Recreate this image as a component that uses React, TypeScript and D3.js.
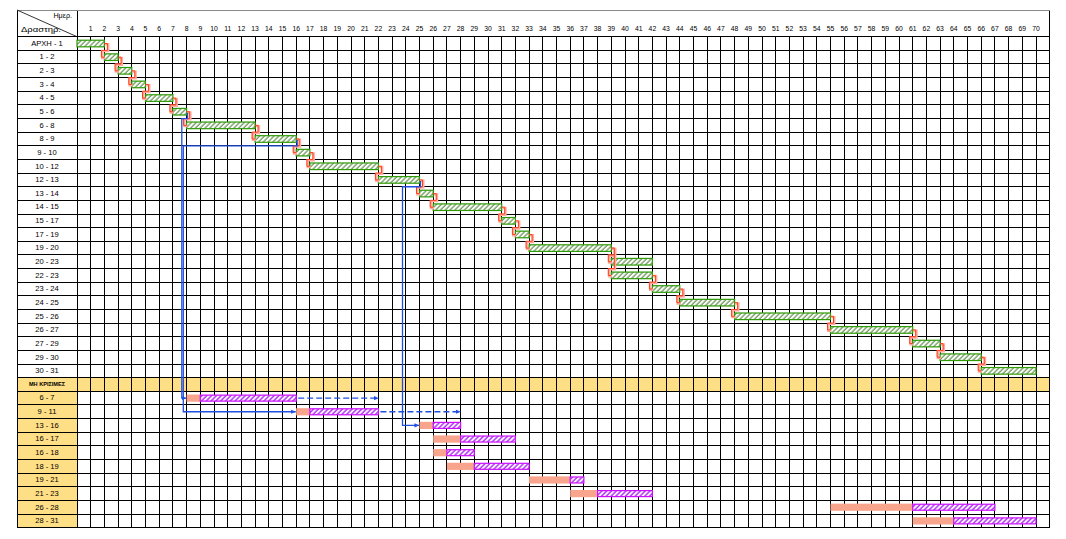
import React from "react";
import * as d3 from "d3";

// Time axis: day boundaries 1..70 (the grid has one extra blank day at the end)
const dayTicks = d3.range(1, 71);
const totalDays = 71;

// Critical activities (start day, duration)
const criticalActs = [
  "ΑΡΧΗ - 1", "1 - 2", "2 - 3", "3 - 4", "4 - 5", "5 - 6", "6 - 8", "8 - 9", "9 - 10",
  "10 - 12", "12 - 13", "13 - 14", "14 - 15", "15 - 17", "17 - 19", "19 - 20", "20 - 23",
  "22 - 23", "23 - 24", "24 - 25", "25 - 26", "26 - 27", "27 - 29", "29 - 30", "30 - 31",
];
const criticalStart = [0, 2, 3, 4, 5, 7, 8, 13, 16, 17, 22, 25, 26, 31, 32, 33, 39, 39, 42, 44, 48, 55, 61, 63, 66];
const criticalDuration = [2, 1, 1, 1, 2, 1, 5, 3, 1, 5, 3, 1, 5, 1, 1, 6, 3, 3, 2, 4, 7, 6, 2, 3, 4];

// Successor links along the critical path (row index pairs)
const criticalLinks: [number, number][] = [
  [0, 1], [1, 2], [2, 3], [3, 4], [4, 5], [5, 6], [6, 7], [7, 8], [8, 9], [9, 10],
  [10, 11], [11, 12], [12, 13], [13, 14], [14, 15], [15, 16], [15, 17], [17, 18],
  [18, 19], [19, 20], [20, 21], [21, 22], [22, 23], [23, 24],
];

const groupLabel = "ΜΗ ΚΡΙΣΙΜΕΣ";

// Non-critical activities (start day, duration, total float)
const nonCriticalActs = ["6 - 7", "9 - 11", "13 - 16", "16 - 17", "16 - 18", "18 - 19", "19 - 21", "21 - 23", "26 - 28", "28 - 31"];
const nonCriticalStart = [8, 16, 25, 26, 26, 27, 33, 36, 55, 61];
const nonCriticalDuration = [1, 1, 1, 2, 1, 2, 3, 2, 6, 3];
const nonCriticalFloat = [7, 5, 2, 4, 2, 4, 1, 4, 6, 6];

// Dependencies from a critical activity into a non-critical one,
// with the day at which the vertical run of each link is routed
const floatLinkSource = [5, 7, 10];
const floatLinkTarget = [0, 1, 2];
const floatLinkLaneDay = [8, 8, 25];

// Dashed extensions of float on non-critical rows (from day, to day)
const dashedRow = [0, 1];
const dashedFrom = [16, 22];
const dashedTo = [22, 28];

const W = 1066;
const H = 539;
const left = 17;
const labelRight = 77;
const colW = 13.7;
const headerTop = 10;
const bodyTop = 36.7;
const bodyBottom = 527.7;

const FONT = "'Liberation Sans', Arial, sans-serif";
const YELLOW = "#ffdf86";
const BLUE = "#1f4fe0";

export default function App() {
  const rowLabels = [...criticalActs, groupLabel, ...nonCriticalActs];
  const nCrit = criticalActs.length;
  const ncBase = nCrit + 1;

  const x = d3.scaleLinear().domain([0, totalDays]).range([labelRight, labelRight + totalDays * colW]);
  const y = d3
    .scaleBand<number>()
    .domain(d3.range(rowLabels.length))
    .range([bodyTop, bodyBottom])
    .padding(0);
  const rh = y.bandwidth();
  const mid = (i: number) => (y(i) as number) + rh / 2;
  const right = x(totalDays);

  const barH = 6.6;

  // Elbow connector between consecutive critical bars
  const elbow = (a: number, b: number) => {
    const xe = x(criticalStart[a] + criticalDuration[a]);
    const yTop = y(b) as number;
    return d3.line()([
      [xe, mid(a)],
      [xe + 3, mid(a)],
      [xe + 3, yTop],
      [xe - 3, yTop],
      [xe - 3, mid(b)],
      [xe, mid(b)],
    ]) as string;
  };

  // pixel nudges so the parallel vertical runs sit side by side
  const laneShift = [-4.8, -3.3, -17];
  const floatLink = (k: number) => {
    const s = floatLinkSource[k];
    const t = ncBase + floatLinkTarget[k];
    const xe = x(criticalStart[s] + criticalDuration[s]);
    const xt = x(nonCriticalStart[floatLinkTarget[k]]);
    const lane = x(floatLinkLaneDay[k]) + laneShift[k];
    const yDrop = (y(s) as number) + rh;
    return d3.line()([
      [xe + 1, mid(s) + 1],
      [xe + 1, yDrop],
      [lane, yDrop],
      [lane, mid(t)],
      [xt - 0.5, mid(t)],
    ]) as string;
  };

  return (
    <svg
      width={W}
      height={H}
      style={{ position: "absolute", left: 0, top: 0, background: "#fff" }}
      fontFamily={FONT}
    >
      <defs>
        <pattern id="hatchG" width="3.4" height="3.4" patternUnits="userSpaceOnUse" patternTransform="rotate(45)">
          <rect width="3.4" height="3.4" fill="#ffffff" />
          <line x1="1" y1="0" x2="1" y2="3.4" stroke="#78a066" strokeWidth="1.4" />
        </pattern>
        <pattern id="hatchP" width="3.4" height="3.4" patternUnits="userSpaceOnUse" patternTransform="rotate(45)">
          <rect width="3.4" height="3.4" fill="#ffffff" />
          <line x1="1" y1="0" x2="1" y2="3.4" stroke="#b23cf2" strokeWidth="1.6" />
        </pattern>
        <marker id="arrowB" viewBox="0 0 6 6" refX="5.5" refY="3" markerWidth="5" markerHeight="5" markerUnits="userSpaceOnUse" orient="auto">
          <path d="M0,0.5 L6,3 L0,5.5 z" fill={BLUE} />
        </marker>
      </defs>

      {/* yellow fills: group band and non-critical label cells */}
      <rect x={left} y={y(nCrit)} width={right - left} height={rh} fill={YELLOW} />
      {nonCriticalActs.map((_, i) => (
        <rect key={`yl${i}`} x={left} y={y(ncBase + i)} width={labelRight - left} height={rh} fill={YELLOW} />
      ))}

      {/* grid */}
      <g stroke="#000" strokeWidth={1} shapeRendering="crispEdges">
        {d3.range(1, totalDays).map((k) => (
          <line key={`v${k}`} x1={x(k)} x2={x(k)} y1={bodyTop} y2={bodyBottom} />
        ))}
        {d3.range(rowLabels.length + 1).map((i) => {
          const yy = i === rowLabels.length ? bodyBottom : (y(i) as number);
          return <line key={`h${i}`} x1={left} x2={right} y1={yy} y2={yy} />;
        })}
        <line x1={left} x2={left} y1={headerTop} y2={bodyBottom} />
        <line x1={labelRight} x2={labelRight} y1={headerTop} y2={bodyBottom} />
        <line x1={right} x2={right} y1={headerTop} y2={bodyBottom} />
      </g>
      <line x1={left} x2={right} y1={headerTop} y2={headerTop} stroke="#8a8a8a" strokeWidth={1} shapeRendering="crispEdges" />
      <line x1={left} y1={headerTop} x2={labelRight} y2={bodyTop} stroke="#000" strokeWidth={0.8} />

      {/* header text */}
      <text x={72} y={16.5} fontSize={7.2} textAnchor="end" dominantBaseline="middle">Ημερ.</text>
      <text x={21} y={29.6} fontSize={7.6} dominantBaseline="middle" textLength={40} lengthAdjust="spacingAndGlyphs">Δραστηρ.</text>
      {dayTicks.map((d) => (
        <text key={`t${d}`} x={x(d)} y={29.4} fontSize={6.8} textAnchor="middle" dominantBaseline="middle">
          {d}
        </text>
      ))}

      {/* row labels */}
      {rowLabels.map((lab, i) => (
        <text
          key={`l${i}`}
          x={(left + labelRight) / 2}
          y={mid(i) + 0.3}
          fontSize={i === nCrit ? 5.6 : 7.6}
          fontWeight={i === nCrit ? "bold" : "normal"}
          textAnchor="middle"
          dominantBaseline="middle"
        >
          {lab}
        </text>
      ))}

      {/* critical bars */}
      {criticalActs.map((_, i) => (
        <rect
          key={`c${i}`}
          x={x(criticalStart[i])}
          y={mid(i) - barH / 2}
          width={x(criticalStart[i] + criticalDuration[i]) - x(criticalStart[i])}
          height={barH}
          fill="url(#hatchG)"
          stroke="#2e9a06"
          strokeWidth={1.2}
        />
      ))}

      {/* non-critical bars: duration (solid) + float (hatched) */}
      {nonCriticalActs.map((_, i) => {
        const r = ncBase + i;
        const s = nonCriticalStart[i];
        const e = s + nonCriticalDuration[i];
        const f = e + nonCriticalFloat[i];
        return (
          <g key={`n${i}`}>
            <rect x={x(s)} y={mid(r) - 3.6} width={x(e) - x(s)} height={7.2} fill="#f9a58d" />
            <rect
              x={x(e)}
              y={mid(r) - 3}
              width={x(f) - x(e)}
              height={6}
              fill="url(#hatchP)"
              stroke="#cc10ff"
              strokeWidth={1.2}
            />
          </g>
        );
      })}

      {/* critical path connectors */}
      {criticalLinks.map(([a, b], i) => (
        <g key={`e${i}`} fill="none">
          <path d={elbow(a, b)} stroke="#ffaaa0" strokeWidth={2.4} transform="translate(0.8,0.8)" />
          <path d={elbow(a, b)} stroke="#ff3f1a" strokeWidth={1} />
        </g>
      ))}

      {/* dependencies into non-critical activities */}
      {floatLinkSource.map((_, k) => (
        <path key={`b${k}`} d={floatLink(k)} fill="none" stroke={BLUE} strokeWidth={1.3} markerEnd="url(#arrowB)" />
      ))}

      {/* dashed float extensions */}
      {dashedRow.map((r, k) => (
        <line
          key={`d${k}`}
          x1={x(dashedFrom[k]) + 2}
          x2={x(dashedTo[k])}
          y1={mid(ncBase + r)}
          y2={mid(ncBase + r)}
          stroke={BLUE}
          strokeWidth={1.3}
          strokeDasharray="6 3"
          markerEnd="url(#arrowB)"
        />
      ))}
    </svg>
  );
}
